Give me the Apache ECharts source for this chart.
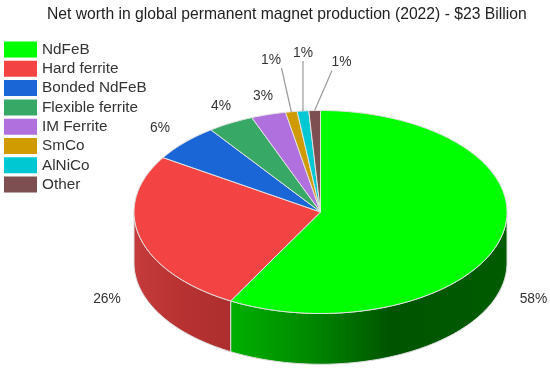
<!DOCTYPE html>
<html><head><meta charset="utf-8">
<style>html,body{margin:0;padding:0;background:#fff}#c{width:550px;height:371px}</style>
<script src="https://cdn.jsdelivr.net/npm/echarts@6/dist/echarts.min.js"></script>
</head><body><div id="c"></div>
<script>
const titleText = 'Net worth in global permanent magnet production (2022) - $23 Billion';
const categories = ['NdFeB','Hard ferrite','Bonded NdFeB','Flexible ferrite','IM Ferrite','SmCo','AlNiCo','Other'];
const shares = [58,26,6,4,3,1,1,1];

// styling and layout (not data)
const colors = ['#00ff00','#f44343','#1a66d6','#37a866','#b070de','#cf9b00','#00c8d2','#7e4f50'];
const wallStops = {
  0:[[0,'#00b000'],[0.28,'#008a00'],[0.58,'#005400'],[1,'#005c00']],
  1:[[0,'#c63b3b'],[0.5,'#b83232'],[1,'#ac2e2e']]
};
const labelPos = [[533.5,299],[107,299],[160,128],[221,106],[263,96],[271,60],[303,53],[341.5,62]];
const leaderEnd = {5:[281.5,68],6:[303,61],7:[332,70.5]};
const FONT = '"Liberation Sans", Arial, sans-serif';
const DEPTH = 0.5; // in y-axis units
const TAU = Math.PI*2;
const total = shares.reduce((a,b)=>a+b,0);

function pt(api, frac, drop){
  const a = frac*TAU;
  return api.coord([Math.sin(a), Math.cos(a)-(drop||0)]);
}
function arc(api, from, to, drop){
  const n = Math.max(2, Math.ceil((to-from)*240)), out=[];
  for(let i=0;i<=n;i++) out.push(pt(api, from+(to-from)*i/n, drop));
  return out;
}
function renderSlice(i, from, to){
  return function(params, api){
    const children = [];
    const wf = Math.max(from,0.25), wt = Math.min(to,0.75);
    if(wt>wf && wallStops[i]){
      const pts = arc(api,wf,wt,0).concat(arc(api,wf,wt,DEPTH).reverse());
      children.push({type:'polygon',shape:{points:pts},style:{
        fill:new echarts.graphic.LinearGradient(0,0,1,0,wallStops[i].map(s=>({offset:s[0],color:s[1]}))),
        stroke:'#dcdcdc',lineWidth:1,lineJoin:'round'}});
    }
    const top = [api.coord([0,0])].concat(arc(api,from,to,0));
    children.push({type:'polygon',shape:{points:top},style:{fill:colors[i],stroke:'#e2e2e2',lineWidth:1,lineJoin:'round'}});
    if(leaderEnd[i]){
      const s = pt(api,(from+to)/2,0), e = leaderEnd[i];
      children.push({type:'line',shape:{x1:s[0],y1:s[1],x2:e[0],y2:e[1]},style:{stroke:'#9a9a9a',lineWidth:1.2}});
    }
    children.push({type:'text',style:{text:api.value(2)+'%',x:labelPos[i][0],y:labelPos[i][1],
      fill:'#333',font:'13.8px '+FONT,align:'center',verticalAlign:'middle'}});
    return {type:'group',children};
  };
}
let cum = 0;
const series = categories.map((name,i)=>{
  const from = cum/total; cum += shares[i]; const to = cum/total;
  return {type:'custom',name,coordinateSystem:'cartesian2d',clip:false,silent:true,
    itemStyle:{color:colors[i]},
    encode:{x:0,y:1},
    data:[[from,to,shares[i]]],
    renderItem:renderSlice(i,from,to)};
});
const chart = echarts.init(document.getElementById('c'),null,{renderer:'canvas'});
chart.setOption({
  animation:false,backgroundColor:'#fff',
  title:{text:titleText,left:42,top:1.5,textStyle:{fontFamily:FONT,fontWeight:'normal',fontSize:15.7,color:'#222'}},
  legend:{data:categories,orient:'vertical',left:4,top:41.5,icon:'rect',itemWidth:33,itemHeight:16,itemGap:3.3,
    selectedMode:false,textStyle:{fontFamily:FONT,fontSize:15.3,color:'#333'},padding:0},
  grid:{left:134,top:110.5,width:373,height:203,containLabel:false},
  xAxis:{type:'value',min:-1,max:1,show:false},
  yAxis:{type:'value',min:-1,max:1,show:false},
  series
});
</script></body></html>
